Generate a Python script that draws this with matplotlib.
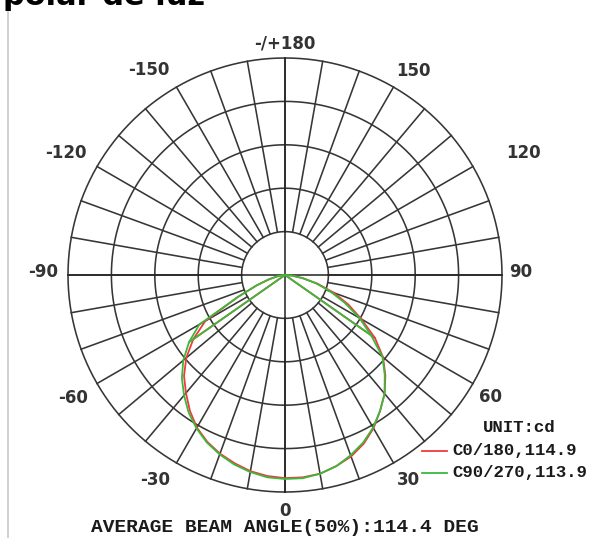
import numpy as np
import matplotlib.pyplot as plt
from matplotlib.lines import Line2D

W, H = 590, 538

# gamma angles (deg), 0 = straight down, positive towards the C0 side
angles = np.arange(-90, 91, 5)

# luminous intensity (cd)
c0_180 = [0, 7, 18, 37, 69, 120, 212, 258, 297, 329, 355, 382, 406, 424, 438, 449, 459,
          465, 468, 468, 465, 456, 445, 429, 408, 382, 357, 327, 295, 253, 203, 161,
          120, 78, 41, 16, 0]
c90_270 = [0, 7, 18, 39, 69, 120, 228, 270, 306, 336, 362, 387, 408, 426, 440, 452, 461,
           468, 470, 470, 465, 456, 442, 426, 406, 382, 357, 325, 293, 242, 198, 152,
           111, 74, 41, 16, 0]

series_names = ["C0/180,114.9", "C90/270,113.9"]
series_colors = ["#ee3b3b", "#3cb83c"]
avg_beam = 114.4

rings = [100, 200, 300, 400, 500]
label_angles = ["-/+180", "150", "120", "90", "60", "30", "0", "-30", "-60", "-90", "-120", "-150"]
label_pos = [(285, 43), (413, 71), (524, 153), (521, 272), (491, 397), (408, 480),
             (285, 511), (155, 480), (73, 398), (43, 272), (66, 153), (149, 70)]


def px(x, y):
    return x / W, 1 - y / H


fig = plt.figure(figsize=(W / 100, H / 100), dpi=100)

cx, cy, R = 285, 275, 217
ax = fig.add_axes([(cx - R) / W, 1 - (cy + R) / H, 2 * R / W, 2 * R / H], projection="polar")
ax.set_theta_zero_location("S")
ax.set_theta_direction(1)
ax.set_ylim(0, rings[-1])
ax.set_axis_off()

grid_kw = dict(color="#363636", lw=1.15, clip_on=False, zorder=1)
t = np.linspace(0, 2 * np.pi, 721)
for r in rings:
    ax.plot(t, np.full_like(t, r), **grid_kw)
for a in range(0, 360, 10):
    th = np.deg2rad(a)
    ax.plot([th, th], [rings[0], rings[-1]], **grid_kw)
# full-length axes through the centre
for a in (0, 90):
    th = np.deg2rad(a)
    ax.plot([th, th + np.pi], [rings[-1], rings[-1]], color="#222222", lw=1.1, clip_on=False, zorder=1)

th = np.deg2rad(angles)
for vals, col in zip([c0_180, c90_270], series_colors):
    vals = np.asarray(vals)
    ax.plot(th, vals, color=col, lw=1.3, zorder=3, clip_on=False)
    for a in (-55, 55):
        i = list(angles).index(a)
        ax.plot([th[i], th[i]], [0, vals[i]], color=col, lw=1.3, zorder=3)

for s, (x, y) in zip(label_angles, label_pos):
    fig.text(*px(x, y), s, ha="center", va="center", fontsize=12, fontweight="bold",
             color="#333333", family="DejaVu Sans")

mono = dict(family="Liberation Mono", fontweight="bold", color="#1a1a1a")
fig.text(*px(519, 427), "UNIT:cd", ha="center", va="center", fontsize=12.5, **mono)
for k, (name, col) in enumerate(zip(series_names, series_colors)):
    y = 451 + 22 * k
    fig.add_artist(Line2D([422 / W, 447 / W], [1 - y / H, 1 - y / H], color=col, lw=1.3))
    fig.text(*px(452, y), name, ha="left", va="center", fontsize=12.5, **mono)

fig.text(*px(285, 527), "AVERAGE BEAM ANGLE(50%%):%.1f DEG" % avg_beam, ha="center",
         va="center", fontsize=14, **mono)

# heading above the chart, its upper part runs off the top edge
fig.text(*px(205, 5), "Curva polar de luz", ha="right", va="baseline", fontsize=22,
         fontweight="bold", color="black")

fig.add_artist(Line2D([8 / W, 8 / W], [0, 1 - 8 / H], color="#c8c8c8", lw=1.2))

fig.savefig("out.png", dpi=100)
